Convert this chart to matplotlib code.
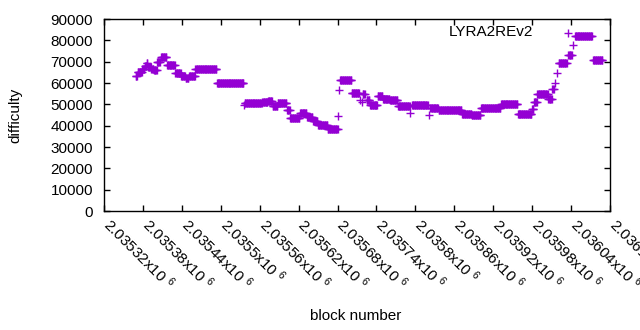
import numpy as np
import matplotlib
matplotlib.use("Agg")
import matplotlib.pyplot as plt
from matplotlib.transforms import ScaledTranslation

plt.rcParams['font.family'] = ['Liberation Sans', 'DejaVu Sans']
plt.rcParams['mathtext.default'] = 'regular'

# difficulty runs: first block, last block, difficulty
run_start = [2035369, 2035372, 2035379, 2035383, 2035386, 2035388, 2035393, 2035397,
             2035402, 2035408, 2035417, 2035430, 2035439, 2035446, 2035451, 2035461,
             2035494, 2035536, 2035537, 2035564, 2035573, 2035580, 2035588, 2035602,
             2035607, 2035622, 2035633, 2035642, 2035650, 2035665, 2035681, 2035682,
             2035684, 2035702, 2035715, 2035718, 2035719, 2035725, 2035730, 2035742,
             2035750, 2035761, 2035773, 2035792, 2035795, 2035821, 2035823, 2035836,
             2035872, 2035887, 2035901, 2035932, 2035958, 2035980, 2035983, 2035988,
             2036005, 2036011, 2036015, 2036018, 2036021, 2036035, 2036036, 2036043,
             2036046, 2036074]
run_end = [2035371, 2035378, 2035382, 2035385, 2035387, 2035392, 2035396, 2035401,
           2035406, 2035416, 2035429, 2035438, 2035445, 2035450, 2035460, 2035493,
           2035535, 2035536, 2035563, 2035572, 2035579, 2035587, 2035601, 2035606,
           2035621, 2035632, 2035641, 2035649, 2035664, 2035680, 2035681, 2035682,
           2035701, 2035713, 2035715, 2035718, 2035722, 2035729, 2035741, 2035749,
           2035760, 2035772, 2035791, 2035792, 2035819, 2035821, 2035835, 2035871,
           2035886, 2035900, 2035931, 2035957, 2035979, 2035982, 2035987, 2036004,
           2036010, 2036013, 2036015, 2036018, 2036033, 2036035, 2036041, 2036043,
           2036072, 2036088]
run_value = [63400, 65100, 66500, 67900, 69600, 67700, 66500, 66000,
             69800, 72100, 68400, 64600, 63400, 62300, 63200, 66700,
             60200, 49600, 50700, 50900, 51400, 49100, 50500, 47200,
             43700, 45800, 44200, 42100, 40400, 38500, 44400, 56600,
             61300, 55400, 51900, 51000, 54700, 52200, 49600, 53800,
             52400, 51900, 49100, 46000, 49800, 44900, 48400, 47200,
             45600, 45100, 48400, 50000, 45600, 47900, 51200, 54700,
             52600, 57000, 60200, 64700, 69300, 83600, 73300, 77800,
             82000, 70700]

tick_blocks = np.arange(2035320, 2036101, 60)

blocks, diff = [], []
for s, e, v in zip(run_start, run_end, run_value):
    for b in range(s, e + 1):
        blocks.append(b)
        diff.append(v)

fig = plt.figure(figsize=(6.4, 3.3), dpi=100)
ax = fig.add_axes([0.1625, 0.3606, 0.7906, 0.5818])
ax.plot(blocks, diff, linestyle='none', marker='+', markersize=5.5,
        markeredgewidth=1, color='#9400d3')

ax.set_xlim(2035320, 2036100)
ax.set_ylim(0, 90000)
ax.set_yticks(np.arange(0, 90001, 10000))
ax.set_xticks(tick_blocks)
ax.set_xticklabels(['%gx10 $^{6}$' % (b / 1e6) for b in tick_blocks],
                   rotation=-45, ha='left', va='top', rotation_mode='anchor')
ax.tick_params(direction='in', length=4, width=1, top=True, right=True,
               labelsize=11)
ax.tick_params(axis='x', pad=7)
ax.tick_params(axis='y', pad=8)
shift = ScaledTranslation(0.09, 0.06, fig.dpi_scale_trans)
for lab in ax.get_xticklabels():
    lab.set_transform(lab.get_transform() + shift)
for sp in ax.spines.values():
    sp.set_linewidth(1)

ax.text(0.848, 0.93, 'LYRA2REv2', transform=ax.transAxes, ha='right',
        va='center', fontsize=11)
ax.set_xlabel('block number', fontsize=11)
ax.xaxis.set_label_coords(0.497, -0.51)
ax.set_ylabel('difficulty', fontsize=11)
ax.yaxis.set_label_coords(-0.162, 0.5)

fig.savefig('out.png', dpi=100)
